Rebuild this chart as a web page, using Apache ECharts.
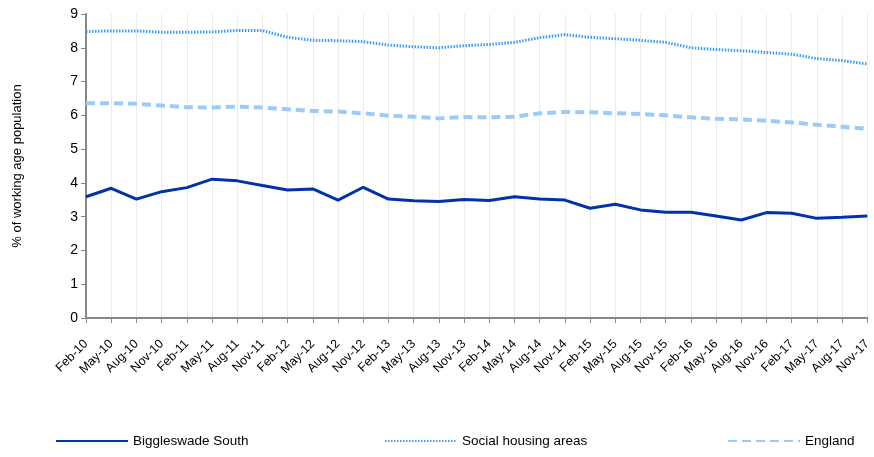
<!DOCTYPE html>
<html lang="en">
	<head>
		<meta charset="UTF-8" />
		<title>Working age population</title>
		<script src="https://cdn.jsdelivr.net/npm/echarts@6.0.0/dist/echarts.min.js"></script>
		<style>
			body { margin: 0; background: #fff; }
		</style>
	</head>
	<body>
		<div id="main" style="width: 874px; height: 457px"></div>
		<script type="text/javascript">
			// quarterly labels
			const categories = [
				"Feb-10", "May-10", "Aug-10", "Nov-10", "Feb-11", "May-11", "Aug-11", "Nov-11",
				"Feb-12", "May-12", "Aug-12", "Nov-12", "Feb-13", "May-13", "Aug-13", "Nov-13",
				"Feb-14", "May-14", "Aug-14", "Nov-14", "Feb-15", "May-15", "Aug-15", "Nov-15",
				"Feb-16", "May-16", "Aug-16", "Nov-16", "Feb-17", "May-17", "Aug-17", "Nov-17",
			];
			const biggleswade = [
				3.59, 3.84, 3.52, 3.74, 3.86, 4.11, 4.06, 3.92,
				3.79, 3.82, 3.49, 3.87, 3.52, 3.47, 3.45, 3.51,
				3.48, 3.59, 3.52, 3.49, 3.25, 3.37, 3.2, 3.13,
				3.13, 3.02, 2.9, 3.12, 3.1, 2.95, 2.98, 3.02,
			];
			const socialHousing = [
				8.48, 8.5, 8.5, 8.46, 8.46, 8.47, 8.51, 8.51,
				8.31, 8.22, 8.21, 8.18, 8.08, 8.03, 8.0, 8.06,
				8.1, 8.16, 8.3, 8.39, 8.31, 8.27, 8.22, 8.16,
				8.0, 7.95, 7.91, 7.86, 7.81, 7.68, 7.62, 7.52,
			];
			const england = [
				6.36, 6.36, 6.34, 6.29, 6.24, 6.23, 6.26, 6.23,
				6.18, 6.13, 6.11, 6.06, 5.99, 5.96, 5.91, 5.95,
				5.94, 5.96, 6.06, 6.1, 6.09, 6.06, 6.04, 6.0,
				5.94, 5.9, 5.88, 5.84, 5.79, 5.72, 5.66, 5.6,
			];

			const font = "Liberation Sans, Arial, sans-serif";
			const legendBase = {
				bottom: 4,
				itemWidth: 72,
				itemHeight: 14,
				itemGap: 8,
				textStyle: { fontFamily: font, fontSize: 13.5, color: "#000" },
				lineStyle: { width: 2 },
				itemStyle: { opacity: 0 },
				selectedMode: false,
			};

			let options = {
				animation: false,
				grid: { left: 86, right: 6, top: 14, bottom: 139 },
				legend: [
					{ ...legendBase, left: 50, data: ["Biggleswade South"] },
					{ ...legendBase, left: 379, data: ["Social housing areas"] },
					{ ...legendBase, left: 722, data: ["England"] },
				],
				xAxis: {
					type: "category",
					data: categories,
					boundaryGap: false,
					axisLine: { lineStyle: { color: "#888", width: 2 } },
					axisTick: { alignWithLabel: true, length: 5, lineStyle: { color: "#888" } },
					axisLabel: {
						rotate: 45,
						interval: 0,
						fontFamily: font,
						fontSize: 12.5,
						color: "#000",
						margin: 24,
					},
					splitLine: { show: true, lineStyle: { color: "#ebebeb", width: 1 } },
				},
				yAxis: {
					type: "value",
					min: 0,
					max: 9,
					interval: 1,
					name: "% of working age population",
					nameLocation: "middle",
					nameGap: 62,
					nameTextStyle: { fontFamily: font, fontSize: 13, color: "#000" },
					axisLine: { show: true, lineStyle: { color: "#888", width: 2 } },
					axisTick: { show: true, length: 5, lineStyle: { color: "#888" } },
					axisLabel: { fontFamily: font, fontSize: 14, color: "#000", margin: 8 },
					splitLine: { show: false },
				},
				series: [
					{
						name: "Biggleswade South",
						type: "line",
						data: biggleswade,
						symbol: "none",
						lineStyle: { color: "#0033aa", width: 3 },
						itemStyle: { color: "#0033aa" },
					},
					{
						name: "Social housing areas",
						type: "line",
						data: socialHousing,
						symbol: "none",
						lineStyle: { color: "#3d9bf5", width: 3, type: [1.5, 1.5] },
						itemStyle: { color: "#3d9bf5" },
					},
					{
						name: "England",
						type: "line",
						data: england,
						symbol: "none",
						lineStyle: { color: "#9ccbfa", width: 4, type: [9, 5] },
						itemStyle: { color: "#9ccbfa" },
					},
				],
			};

			let myChart = echarts.init(document.getElementById("main"));
			myChart.setOption(options);
		</script>
	</body>
</html>
